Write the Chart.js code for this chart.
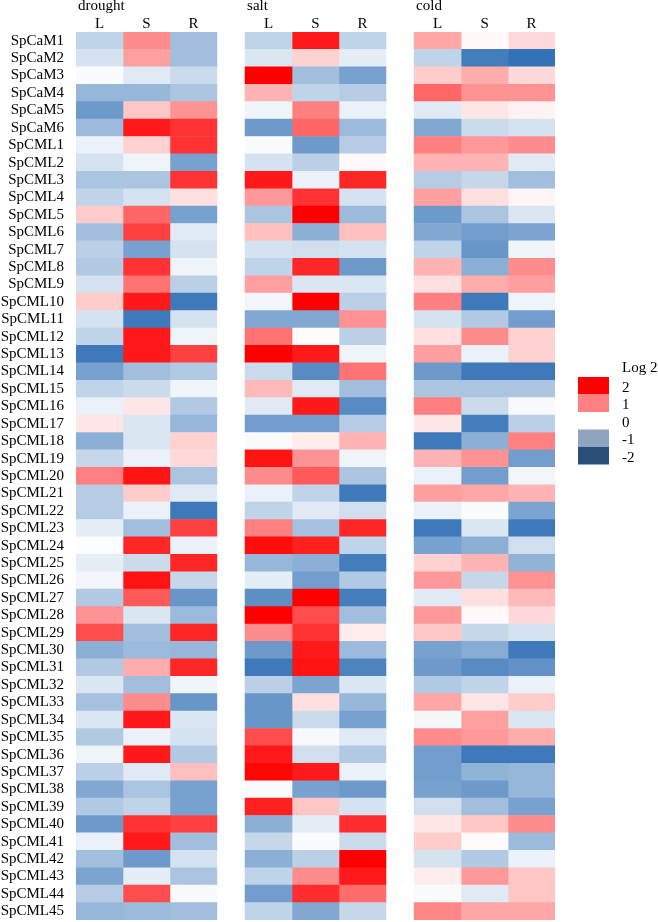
<!DOCTYPE html>
<html><head><meta charset="utf-8">
<script src="https://cdn.jsdelivr.net/npm/chart.js@4"></script>
<style>html,body{margin:0;padding:0;background:#fff;}#wrap{width:658px;height:922px;position:relative;}canvas{display:block;}</style>
</head><body><div id="wrap"><canvas id="c" width="658" height="922"></canvas></div>
<script>
const genes = ['SpCaM1','SpCaM2','SpCaM3','SpCaM4','SpCaM5','SpCaM6'];
for (let i = 1; i <= 45; i++) genes.push('SpCML' + i);
const conditions = ['drought', 'salt', 'cold'];
const tissues = ['L', 'S', 'R'];
const legendTitle = 'Log 2';
const legendValues = [2, 1, 0, -1, -2];

const droughtL = [-0.6,-0.4,-0.05,-1.0,-1.4,-0.95,
 -0.2,-0.4,-0.8,-0.6,0.4,-0.9,-0.65,-0.75,-0.4,0.4,
 -0.4,-0.6,-1.85,-1.3,-0.6,-0.2,0.2,-1.1,-0.55,1.0,
 -0.7,-0.7,-0.25,-0.03,-0.25,-0.12,-0.75,0.85,1.4,-1.1,
 -0.75,-0.35,-0.85,-0.35,-0.75,-0.15,-0.65,-1.2,-0.75,-1.4,
 -0.2,-0.9,-1.25,-0.7,-1.0];
const droughtS = [0.9,0.75,-0.3,-1.0,0.45,1.8,
 0.35,-0.15,-0.8,-0.4,1.2,1.5,-1.3,1.6,1.1,1.8,
 -1.85,1.8,1.8,-0.9,-0.5,0.2,-0.35,-0.35,-0.2,1.85,
 0.4,-0.2,-0.9,1.7,-0.5,1.85,1.3,-0.35,-0.9,-0.95,
 0.65,-0.9,0.9,1.8,-0.2,1.8,-0.3,-0.8,-0.6,1.6,
 1.8,-1.4,-0.25,1.4,-0.95];
const droughtR = [-0.9,-0.9,-0.5,-0.8,0.85,1.6,
 1.6,-1.3,1.6,0.25,-1.3,-0.3,-0.4,-0.15,-0.65,-1.85,
 -0.4,-0.15,1.5,-0.75,-0.15,-0.75,-1.0,0.35,0.3,-0.8,
 -0.3,-1.85,1.5,-0.2,1.7,-0.55,-1.45,-0.95,1.7,-1.0,
 1.7,-0.15,-1.45,-0.35,-0.4,-0.75,0.5,-1.3,-1.3,1.5,
 -0.9,-0.4,-0.8,-0.08,-0.9];
const saltL = [-0.6,-0.35,2.0,0.6,-0.15,-1.4,
 -0.05,-0.4,1.8,0.8,-0.8,0.5,-0.4,-0.6,0.75,-0.12,
 -1.2,1.1,2.0,-0.5,0.55,-0.3,-1.35,-0.05,1.85,0.9,
 -0.2,-0.6,1.0,1.9,-1.0,-0.25,-1.55,2.0,0.9,-1.4,
 -1.85,-0.65,-1.45,-1.45,1.4,1.8,1.95,-0.05,1.75,-1.1,
 -0.55,-1.1,-0.6,-1.35,-0.6];
const saltS = [1.8,0.35,-0.9,-0.6,1.0,1.2,
 -1.4,-0.65,-0.2,1.6,2.0,-1.1,-0.45,1.7,-0.35,2.0,
 -1.2,0.03,1.8,-1.6,-0.3,1.8,-1.35,0.15,0.85,1.3,
 -0.6,-0.3,-0.85,1.75,-1.1,-1.35,2.0,1.4,1.6,1.8,
 1.85,-1.25,0.25,-0.5,-0.08,-0.45,1.8,-1.3,0.45,-0.25,
 -0.05,-0.65,0.9,1.65,-1.2];
const saltR = [-0.6,-0.25,-1.3,-0.7,-0.2,-0.95,
 -0.7,0.05,1.7,-0.4,-0.95,0.5,-0.4,-1.4,-0.35,-0.65,
 0.85,-0.65,-0.15,1.1,-0.9,-1.6,-0.7,0.6,-0.15,-0.8,
 -1.85,-0.45,1.7,-0.6,-1.8,-0.75,-1.8,-0.9,0.15,-0.95,
 -1.7,-0.35,-1.0,-1.3,-0.3,-0.75,-0.2,-1.4,-0.4,1.65,
 -0.5,2.0,1.8,1.15,-0.55];
const coldL = [0.7,-0.6,0.4,1.2,-0.3,-1.2,
 1.0,0.6,-0.7,0.75,-1.4,-1.2,-0.6,0.6,0.25,1.0,
 -0.4,0.25,0.75,-1.4,-0.8,1.0,0.2,-1.85,0.6,-0.2,
 0.75,-0.2,-1.85,-1.3,0.35,0.8,-0.3,0.8,0.45,-1.3,
 -1.4,-0.75,0.7,-0.1,0.9,-1.35,-1.35,-1.3,-0.45,0.2,
 0.4,-0.4,0.15,-0.07,0.95];
const coldS = [0.05,-1.8,0.65,0.85,0.2,-0.5,
 0.8,0.6,-0.55,0.25,-0.8,-1.35,-1.45,-1.1,0.65,-1.85,
 -0.75,0.9,-0.2,-1.85,-0.8,-0.5,-1.8,-1.1,0.85,-1.35,
 0.7,-0.05,-0.35,-1.1,0.6,-0.55,0.25,0.05,-0.55,-1.15,
 -1.6,-0.6,0.2,0.75,0.8,-1.85,-1.05,-1.4,-0.9,0.45,
 0.03,-0.75,0.8,-0.3,0.7];
const coldR = [0.3,-1.95,0.3,0.85,0.1,-0.4,
 0.9,-0.3,-0.9,0.08,-0.35,-1.25,-0.15,0.9,0.75,-0.15,
 -1.35,0.35,0.35,-1.85,-0.8,-0.08,-0.65,1.0,-1.35,-0.12,
 0.6,-1.25,-1.85,-0.45,-1.05,0.85,0.55,0.3,-0.4,-1.85,
 -1.5,-0.2,0.4,-0.35,0.65,-1.85,-1.0,-1.0,-1.3,0.9,
 -0.95,-0.2,0.45,0.45,0.7];

const series = [[droughtL, droughtS, droughtR],[saltL, saltS, saltR],[coldL, coldS, coldR]];
const GROUP_STEP = 3.6;
const BLUE = [46, 110, 180];

function cellColor(v) {
  if (v >= 0) {
    const t = Math.min(v / 2, 1);
    const g = Math.round(255 * (1 - t));
    return `rgb(255,${g},${g})`;
  }
  const t = Math.min(-v / 2, 1);
  const c = BLUE.map(b => Math.round(255 + (b - 255) * t));
  return `rgb(${c[0]},${c[1]},${c[2]})`;
}

const datasets = [];
series.forEach((grp, gi) => {
  grp.forEach((vals, ti) => {
    const start = gi * GROUP_STEP + ti;
    datasets.push({
      label: conditions[gi] + ' ' + tissues[ti],
      data: vals.map(() => [start, start + 1]),
      backgroundColor: vals.map(cellColor),
      borderWidth: 0,
      borderSkipped: false,
      barPercentage: 1,
      categoryPercentage: 1,
      grouped: false
    });
  });
});

const SERIF = "'Liberation Serif', 'Times New Roman', serif";

const annot = {
  id: 'annot',
  afterDraw(chart) {
    const ctx = chart.ctx;
    const x = chart.scales.x;
    ctx.save();
    ctx.fillStyle = '#000';
    ctx.font = '15px ' + SERIF;
    ctx.textBaseline = 'alphabetic';
    conditions.forEach((c, gi) => {
      const left = x.getPixelForValue(gi * GROUP_STEP);
      ctx.textAlign = 'left';
      ctx.fillText(c, left + 2, 10);
      tissues.forEach((t, ti) => {
        ctx.textAlign = 'center';
        ctx.fillText(t, x.getPixelForValue(gi * GROUP_STEP + ti + 0.5), 28);
      });
    });
    // legend
    const lx = 578, lw = 31, lh = 17.5, ly0 = 377;
    ctx.textAlign = 'left';
    ctx.textBaseline = 'middle';
    ctx.fillText(legendTitle, 622, ly0 - 9);
    const legendColors = {2: '#ff0000', 1: '#ff8080', 0: null, '-1': '#8fa5bd', '-2': '#2a5078'};
    legendValues.forEach((v, i) => {
      const y = ly0 + i * lh;
      const col = legendColors[v];
      if (col) { ctx.fillStyle = col; ctx.fillRect(lx, y, lw, lh); }
      ctx.fillStyle = '#000';
      ctx.fillText(String(v), 622, y + lh / 2 + 2);
    });
    ctx.restore();
  }
};

new Chart(document.getElementById('c'), {
  type: 'bar',
  data: { labels: genes, datasets },
  options: {
    indexAxis: 'y',
    responsive: false,
    animation: false,
    devicePixelRatio: 1,
    layout: { padding: { left: 0, right: 103, top: 32, bottom: 2 } },
    plugins: { legend: { display: false }, tooltip: { enabled: false } },
    scales: {
      x: { type: 'linear', min: 0, max: 2 * GROUP_STEP + 3, display: false },
      y: {
        type: 'category',
        grid: { display: false, drawTicks: false },
        border: { display: false },
        ticks: { color: '#000', font: { family: SERIF, size: 15 }, padding: 12, autoSkip: false },
        afterFit(scale) { scale.width = 76; scale.paddingTop = 0; scale.paddingBottom = 0; }
      }
    }
  },
  plugins: [annot]
});
</script></body></html>
